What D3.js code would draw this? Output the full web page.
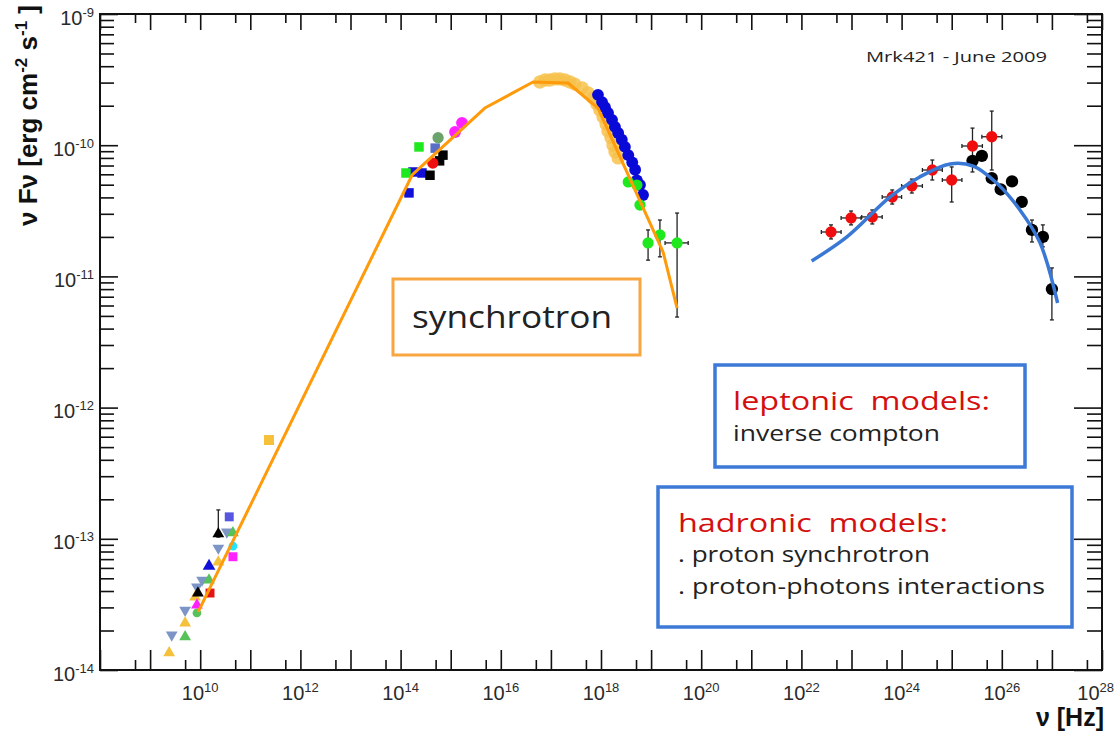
<!doctype html>
<html>
<head>
<meta charset="utf-8">
<script src="https://d3js.org/d3.v7.min.js"></script>
<style>
  body { margin: 0; background: #fff; }
  .tick-lab { font-family: "Liberation Sans", Arial, sans-serif; fill: #2a2a2a; }
  .note { font-family: "Open Sans", "Lato", sans-serif; white-space: pre; }
</style>
</head>
<body>
<svg id="svg" width="1115" height="732"></svg>
<script>
// ---- data: [nu (Hz), nuFnu (erg cm-2 s-1)] ----
const radioYellowTri = [[2.4e9, 1.35e-14], [5.0e9, 2.28e-14], [7.9e9, 3.6e-14], [2.3e10, 6.65e-14]];
const radioSlateTriDown = [[2.7e9, 1.85e-14], [5.0e9, 2.86e-14], [8.6e9, 4.3e-14], [1.09e10, 4.85e-14], [2.3e10, 8.5e-14], [3.4e10, 1.13e-13]];
const radioGreenTri = [[5.0e9, 1.79e-14], [1.5e10, 4.85e-14], [4.5e10, 1.11e-13]];
const radioGreenCircle = [[8.6e9, 2.72e-14]];
const radioMagentaTri = [[8.6e9, 3.13e-14]];
const radioBlackTri = [[9.0e9, 3.86e-14], [2.3e10, 1.09e-13]];
// [nu, flux, fluxLo, fluxHi]
const radioBlackErr = [[2.3e10, 1.09e-13, 1.03e-13, 1.66e-13]];
const radioRedSquare = [[1.57e10, 3.86e-14]];
const radioBlueTri = [[1.5e10, 6.2e-14]];
const radioMagentaSquare = [[4.5e10, 7.3e-14]];
const radioCyan = [[4.5e10, 8.8e-14]];
const radioPurpleSquare = [[3.8e10, 1.47e-13]];
const mmYellowSquare = [[2.36e11, 5.66e-13]];

const optBlueSquare = [[1.47e14, 4.33e-11], [1.77e14, 6.25e-11], [2.67e14, 6.14e-11]];
const optGreenSquare = [[1.28e14, 6.14e-11], [2.33e14, 9.7e-11]];
const optSlateSquare = [[4.9e14, 9.5e-11]];
const optGreyCircle = [[5.6e14, 1.14e-10]];
const optBlackSquare = [[3.86e14, 5.9e-11], [6.0e14, 7.6e-11], [7.0e14, 8.4e-11]];
const optRed = [[4.4e14, 7.3e-11]];
const uvMagenta = [[1.22e15, 1.26e-10], [1.68e15, 1.48e-10]];

const xrayYellow = [[6.0e16, 3.03e-10], [7.6e16, 3.14e-10], [9.5e16, 3.14e-10], [1.2e17, 3.2e-10], [1.5e17, 3.2e-10],
  [1.9e17, 3.14e-10], [2.4e17, 3.03e-10], [3.0e17, 2.92e-10], [4.2e17, 2.73e-10], [5.5e17, 2.5e-10],
  [6.9e17, 2.29e-10], [8.3e17, 2.06e-10], [9.5e17, 1.85e-10], [1.1e18, 1.64e-10], [1.26e18, 1.45e-10],
  [1.38e18, 1.28e-10], [1.58e18, 1.14e-10], [1.74e18, 1.0e-10], [1.9e18, 8.9e-11], [2.2e18, 8.0e-11]];
const xrayBlue = [[8.7e17, 2.42e-10], [1.05e18, 2.13e-10], [1.2e18, 1.95e-10], [1.38e18, 1.76e-10], [1.66e18, 1.56e-10],
  [1.9e18, 1.38e-10], [2.2e18, 1.24e-10], [2.6e18, 1.1e-10], [3.0e18, 9.7e-11], [3.5e18, 8.4e-11],
  [4.2e18, 7.4e-11], [4.8e18, 6.5e-11], [5.2e18, 5.4e-11], [6.0e18, 4.97e-11], [6.9e18, 4.17e-11]];
const xrayGreen = [[3.5e18, 5.25e-11], [5.2e18, 4.97e-11], [6.0e18, 3.5e-11]];
// [nu, flux, fluxLo, fluxHi, nuLo, nuHi]
const hardXGreen = [[8.7e18, 1.8e-11, 1.33e-11, 2.26e-11, 8.7e18, 8.7e18],
  [1.5e19, 2.07e-11, 1.41e-11, 2.69e-11, 1.5e19, 1.5e19],
  [3.3e19, 1.8e-11, 4.9e-12, 3.04e-11, 1.9e19, 5.5e19]];

const fermiRed = [[3.9e22, 2.18e-11, 1.93e-11, 2.47e-11, 2.5e22, 6.2e22],
  [9.8e22, 2.79e-11, 2.47e-11, 3.15e-11, 6.2e22, 1.55e23],
  [2.6e23, 2.84e-11, 2.51e-11, 3.21e-11, 1.6e23, 4.1e23],
  [6.5e23, 4.03e-11, 3.56e-11, 4.56e-11, 4.1e23, 1.0e24],
  [1.6e24, 4.89e-11, 4.32e-11, 5.52e-11, 1.0e24, 2.6e24],
  [4.1e24, 6.47e-11, 5.43e-11, 7.71e-11, 2.6e24, 6.5e24],
  [1.0e25, 5.43e-11, 3.69e-11, 6.83e-11, 6.5e24, 1.6e25],
  [2.6e25, 9.86e-11, 6.25e-11, 1.35e-10, 1.6e25, 4.1e25],
  [6.3e25, 1.16e-10, 6.47e-11, 1.82e-10, 4.0e25, 1.0e26]];
const magicBlack = [[2.6e25, 7.6e-11, 7.1e-11, 8.1e-11, 2.6e25, 2.6e25],
  [4.0e25, 8.3e-11, 7.8e-11, 8.8e-11, 4.0e25, 4.0e25],
  [6.3e25, 5.6e-11, 5.2e-11, 6.0e-11, 6.3e25, 6.3e25],
  [9.5e25, 4.6e-11, 4.3e-11, 5.0e-11, 9.5e25, 9.5e25],
  [1.6e26, 5.3e-11, 4.9e-11, 5.7e-11, 1.6e26, 1.6e26],
  [2.5e26, 3.7e-11, 3.4e-11, 4.0e-11, 2.5e26, 2.5e26],
  [4.0e26, 2.26e-11, 1.83e-11, 2.69e-11, 4.0e26, 4.0e26],
  [6.6e26, 2.0e-11, 1.68e-11, 2.47e-11, 6.6e26, 6.6e26],
  [1.0e27, 8.0e-12, 4.66e-12, 1.16e-11, 1.0e27, 1.0e27]];

// model curves
const syncModelNu = [9.1e9, 1.7e14, 4.8e15, 4.4e16, 2.2e17, 8.7e17, 1.74e19, 3.3e19];
const syncModelF = [2.77e-14, 5.93e-11, 1.92e-10, 3.03e-10, 2.98e-10, 1.92e-10, 1.53e-11, 5.74e-12];
const icModelNu = [1.6e22, 8.1e22, 5.9e23, 2.3e24, 9.3e24, 2.7e25, 7.9e25, 2.3e26, 5.8e26, 1.3e27];
const icModelF = [1.31e-11, 2.0e-11, 4.03e-11, 5.73e-11, 7.2e-11, 6.94e-11, 5.15e-11, 3.21e-11, 1.8e-11, 6.27e-12];

// axes
const xMajor = d3.range(8, 29).map(e => Math.pow(10, e));
const xMinor = d3.range(8, 28).map(e => 5 * Math.pow(10, e));
const xLabelExp = [10, 12, 14, 16, 18, 20, 22, 24, 26, 28];
const yMajor = d3.range(-14, -8).map(e => Math.pow(10, e));
const yMinor = d3.range(-14, -9).flatMap(e => d3.range(2, 10).map(m => m * Math.pow(10, e)));
const yLabelExp = [-14, -13, -12, -11, -10, -9];

// ---- drawing ----
const svg = d3.select("#svg");
const pLeft = 100, pRight = 1102, pTop = 14, pBottom = 670;
const x = d3.scaleLog().domain([1e8, 1e28]).range([pLeft, pRight]);
const y = d3.scaleLog().domain([1e-14, 1e-9]).range([pBottom, pTop]);

function axisG(axis, tx, ty) {
  const g = svg.append("g").attr("transform", `translate(${tx},${ty})`).call(axis);
  g.select(".domain").remove();
  g.selectAll(".tick line").attr("stroke", "#111").attr("stroke-width", 1.6);
  return g;
}
axisG(d3.axisBottom(x).tickValues(xMajor).tickSize(-20).tickFormat(""), 0, pBottom);
axisG(d3.axisBottom(x).tickValues(xMinor).tickSize(-10).tickFormat(""), 0, pBottom);
axisG(d3.axisTop(x).tickValues(xMajor).tickSize(-16).tickFormat(""), 0, pTop);
axisG(d3.axisTop(x).tickValues(xMinor).tickSize(-9).tickFormat(""), 0, pTop);
axisG(d3.axisLeft(y).tickValues(yMajor).tickSize(-18).tickFormat(""), pLeft, 0);
axisG(d3.axisLeft(y).tickValues(yMinor).tickSize(-14).tickFormat(""), pLeft, 0);
axisG(d3.axisRight(y).tickValues(yMajor).tickSize(-28).tickFormat(""), pRight, 0);
axisG(d3.axisRight(y).tickValues(yMinor).tickSize(-15).tickFormat(""), pRight, 0);

// frame
svg.append("path")
  .attr("d", `M${pLeft},${pTop}H${pRight}V${pBottom}H${pLeft}Z`)
  .attr("fill", "none").attr("stroke", "#111").attr("stroke-width", 2);

// tick labels
xLabelExp.forEach(e => {
  const last = e === 28;
  const t = svg.append("text").attr("class", "tick-lab")
    .attr("x", last ? 1114 : x(Math.pow(10, e))).attr("y", 700)
    .attr("text-anchor", last ? "end" : "middle").attr("font-size", 20);
  t.append("tspan").text("10");
  t.append("tspan").attr("dy", -8).attr("font-size", 13).text(e);
});
yLabelExp.forEach(e => {
  const t = svg.append("text").attr("class", "tick-lab")
    .attr("x", 94).attr("y", y(Math.pow(10, e)) + 10.5)
    .attr("text-anchor", "end").attr("font-size", 20);
  t.append("tspan").text("10");
  t.append("tspan").attr("dy", -8).attr("font-size", 13).text(e);
});

// axis titles
const yt = svg.append("text")
  .attr("transform", "translate(37,5) rotate(-90)")
  .attr("text-anchor", "end")
  .attr("font-family", "Liberation Sans, Arial, sans-serif")
  .attr("font-weight", "bold").attr("font-size", 26).attr("fill", "#111");
yt.append("tspan").text("ν Fν [erg cm");
yt.append("tspan").attr("dy", -10).attr("font-size", 17).text("-2");
yt.append("tspan").attr("dy", 10).text(" s");
yt.append("tspan").attr("dy", -10).attr("font-size", 17).text("-1");
yt.append("tspan").attr("dy", 10).text(" ]");

svg.append("text")
  .attr("x", 1104).attr("y", 726).attr("text-anchor", "end")
  .attr("font-family", "Liberation Sans, Arial, sans-serif")
  .attr("font-weight", "bold").attr("font-size", 25).attr("fill", "#111")
  .text("ν [Hz]");

// markers
const shapes = {
  triUp: d3.symbolTriangle, triDown: d3.symbolTriangle,
  square: d3.symbolSquare, circle: d3.symbolCircle
};
const seriesStyle = [
  { data: radioYellowTri, shape: "triUp", color: "#f5c03a", size: 60 },
  { data: radioSlateTriDown, shape: "triDown", color: "#7d95c6", size: 60 },
  { data: radioGreenTri, shape: "triUp", color: "#58c25a", size: 60 },
  { data: radioGreenCircle, shape: "circle", color: "#58c25a", size: 60 },
  { data: radioMagentaTri, shape: "triUp", color: "#ff22ff", size: 60 },
  { data: radioBlackTri, shape: "triUp", color: "#000", size: 60 },
  { data: radioRedSquare, shape: "square", color: "#e31414", size: 80 },
  { data: radioBlueTri, shape: "triUp", color: "#1010d8", size: 70 },
  { data: radioMagentaSquare, shape: "square", color: "#ff22ff", size: 80 },
  { data: radioCyan, shape: "circle", color: "#22e5ff", size: 60 },
  { data: radioPurpleSquare, shape: "square", color: "#5656e0", size: 80 },
  { data: mmYellowSquare, shape: "square", color: "#f5c03a", size: 100 },
  { data: optBlueSquare, shape: "square", color: "#1010d8", size: 90 },
  { data: optGreenSquare, shape: "square", color: "#1ee81e", size: 90 },
  { data: optSlateSquare, shape: "square", color: "#5a6ec8", size: 90 },
  { data: optGreyCircle, shape: "circle", color: "#6aa46a", size: 100 },
  { data: optBlackSquare, shape: "square", color: "#000", size: 90 },
  { data: optRed, shape: "circle", color: "#ee1010", size: 100 },
  { data: uvMagenta, shape: "circle", color: "#ff22ff", size: 110 },
  { data: xrayYellow, shape: "circle", color: "#f7c24c", size: 140, opacity: 0.85 },
  { data: xrayBlue, shape: "circle", color: "#0a0ad8", size: 110 },
  { data: xrayGreen, shape: "circle", color: "#1ee81e", size: 100 },
  { data: hardXGreen, shape: "circle", color: "#1ee81e", size: 100 },
  { data: fermiRed, shape: "circle", color: "#f00d0d", size: 100 },
  { data: magicBlack, shape: "circle", color: "#000", size: 120 }
];

// error bars
const errG = svg.append("g").attr("stroke", "#222").attr("stroke-width", 1.3);
function errorBars(rows) {
  rows.forEach(r => {
    const cx = x(r[0]), cy = y(r[1]);
    const y0 = y(r[2]), y1 = y(r[3]);
    errG.append("line").attr("x1", cx).attr("x2", cx).attr("y1", y0).attr("y2", y1);
    errG.append("line").attr("x1", cx - 2).attr("x2", cx + 2).attr("y1", y0).attr("y2", y0);
    errG.append("line").attr("x1", cx - 2).attr("x2", cx + 2).attr("y1", y1).attr("y2", y1);
    if (r.length > 4 && r[4] !== r[5]) {
      const x0 = x(r[4]), x1 = x(r[5]);
      errG.append("line").attr("x1", x0).attr("x2", x1).attr("y1", cy).attr("y2", cy);
      errG.append("line").attr("x1", x0).attr("x2", x0).attr("y1", cy - 2).attr("y2", cy + 2);
      errG.append("line").attr("x1", x1).attr("x2", x1).attr("y1", cy - 2).attr("y2", cy + 2);
    }
  });
}
errorBars(radioBlackErr);
errorBars(hardXGreen);
errorBars(fermiRed);
errorBars(magicBlack);

const markG = svg.append("g");
seriesStyle.forEach(s => {
  markG.selectAll(null)
    .data(s.data)
    .join("path")
    .attr("transform", d => `translate(${x(d[0])},${y(d[1])})` + (s.shape === "triDown" ? " rotate(180)" : ""))
    .attr("d", d3.symbol().type(shapes[s.shape]).size(s.size))
    .attr("fill", s.color)
    .attr("fill-opacity", s.opacity || 1);
});

// models
const line = d3.line().x(d => x(d[0])).y(d => y(d[1]));
svg.append("path")
  .datum(syncModelNu.map((v, i) => [v, syncModelF[i]]))
  .attr("d", line)
  .attr("fill", "none").attr("stroke", "#ff9a0a").attr("stroke-width", 3)
  .attr("stroke-linejoin", "round");
svg.append("path")
  .datum(icModelNu.map((v, i) => [v, icModelF[i]]))
  .attr("d", line.curve(d3.curveCatmullRom))
  .attr("fill", "none").attr("stroke", "#3a78d6").attr("stroke-width", 3.5);

// annotations
svg.append("text").attr("class", "note")
  .attr("x", 866).attr("y", 62).attr("font-size", 15).attr("fill", "#222")
  .attr("textLength", 181).attr("lengthAdjust", "spacingAndGlyphs")
  .text("Mrk421 - June 2009");

svg.append("rect").attr("x", 393).attr("y", 279).attr("width", 247).attr("height", 76)
  .attr("fill", "#fff").attr("stroke", "#f8a640").attr("stroke-width", 3);
svg.append("text").attr("class", "note")
  .attr("x", 412).attr("y", 328).attr("font-size", 31).attr("fill", "#222")
  .attr("textLength", 200).attr("lengthAdjust", "spacingAndGlyphs")
  .text("synchrotron");

svg.append("rect").attr("x", 715).attr("y", 365).attr("width", 310).attr("height", 102)
  .attr("fill", "#fff").attr("stroke", "#3d7ad8").attr("stroke-width", 3.5);
svg.append("text").attr("class", "note")
  .attr("x", 733).attr("y", 410).attr("font-size", 25).attr("fill", "#d40f0f")
  .attr("textLength", 257).attr("lengthAdjust", "spacingAndGlyphs")
  .text("leptonic  models:");
svg.append("text").attr("class", "note")
  .attr("x", 733).attr("y", 441).attr("font-size", 21).attr("fill", "#222")
  .attr("textLength", 207).attr("lengthAdjust", "spacingAndGlyphs")
  .text("inverse compton");

svg.append("rect").attr("x", 658).attr("y", 487).attr("width", 414).attr("height", 140)
  .attr("fill", "#fff").attr("stroke", "#3d7ad8").attr("stroke-width", 3.5);
svg.append("text").attr("class", "note")
  .attr("x", 678).attr("y", 532).attr("font-size", 25).attr("fill", "#d40f0f")
  .attr("textLength", 270).attr("lengthAdjust", "spacingAndGlyphs")
  .text("hadronic  models:");
svg.append("text").attr("class", "note")
  .attr("x", 678).attr("y", 562).attr("font-size", 21).attr("fill", "#222")
  .attr("textLength", 252).attr("lengthAdjust", "spacingAndGlyphs")
  .text(". proton synchrotron");
svg.append("text").attr("class", "note")
  .attr("x", 678).attr("y", 594).attr("font-size", 21).attr("fill", "#222")
  .attr("textLength", 367).attr("lengthAdjust", "spacingAndGlyphs")
  .text(". proton-photons interactions");
</script>
</body>
</html>
